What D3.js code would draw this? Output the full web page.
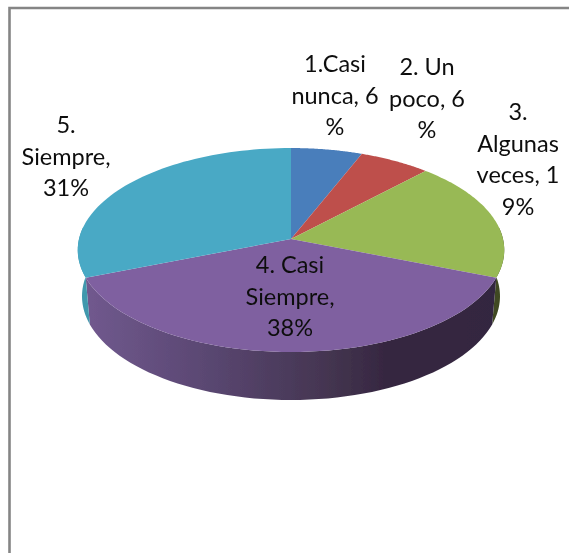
<!DOCTYPE html>
<html><head><meta charset="utf-8">
<script src="https://cdn.jsdelivr.net/npm/d3@7"></script>
<style>html,body{margin:0;padding:0;background:#fff}svg{display:block}text{font-family:Lato,"Open Sans",sans-serif;fill:#111}</style>
</head><body><svg id="c" width="569" height="553"></svg>
<script>
const categories = ["1.Casi nunca","2. Un poco","3. Algunas veces","4. Casi Siempre","5. Siempre"];
const values = [6,6,19,38,31];
const colors = ["#4a7ebb","#be4f4c","#98b954","#7f60a0","#48a9c5"];
const wallColors = ["#2f4f78","#7a3230","#3f4a20","#4f3f66","#3f98ad"];
const labelLines = [["1.Casi","nunca, 6","%"],["2. Un","poco, 6","%"],["3.","Algunas","veces, 1","9%"],["4. Casi","Siempre,","38%"],["5.","Siempre,","31%"]];
const labelPos = [[335,72],[427,75],[518,120],[290,273],[66,133]];

const svg = d3.select("#c");
const defs = svg.append("defs");
const grad = defs.append("linearGradient").attr("id","wall").attr("gradientUnits","userSpaceOnUse")
  .attr("x1",78).attr("x2",504).attr("y1",0).attr("y2",0);
[[0,"#725a90"],[.3,"#5a4772"],[.6,"#43344f"],[.72,"#362741"],[1,"#33253f"]].forEach(s=>grad.append("stop").attr("offset",s[0]).attr("stop-color",s[1]));
defs.append("filter").attr("id","soft").attr("x","-5%").attr("y","-5%").attr("width","110%").attr("height","110%")
  .append("feGaussianBlur").attr("stdDeviation",0.5);

// perspective projection of the unit disc
const cx=291, cy=239, A=212, B=100.8, K=0.108;
const proj=(t,r=1)=>{const u=Math.sin(t)*r,v=-Math.cos(t)*r,w=1-K*v;return [cx+A*u/w,cy+B*v/w,v];};
const depth=v=>46+2*v;
const shrink=0.98;
const arcs=d3.pie().sort(null).value(d=>d)(values);
const samples=(a0,a1)=>d3.range(0,61).map(i=>a0+(a1-a0)*i/60);

// frame
svg.append("path").attr("d","M9.5 553V8H569").attr("fill","none").attr("stroke","#858585").attr("stroke-width",2.6);

const chart=svg.append("g").attr("filter","url(#soft)");
// walls: only the near half of the rim shows
const line=d3.line();
arcs.forEach((d,i)=>{
  const a0=Math.max(d.startAngle,Math.PI/2-0.12),a1=Math.min(d.endAngle,Math.PI*1.5+0.12);
  if(a1<=a0) return;
  const top=samples(a0,a1).map(t=>proj(t));
  const bot=top.slice().reverse().map(p=>[cx+(p[0]-cx)*shrink,p[1]+depth(p[2])]);
  chart.append("path").attr("d",line(top.map(p=>[p[0],p[1]]).concat(bot))+"Z")
    .attr("fill",i===3?"url(#wall)":wallColors[i]);
});
// top face
arcs.forEach((d,i)=>{
  const pts=[[cx,cy]].concat(samples(d.startAngle,d.endAngle).map(t=>proj(t).slice(0,2)));
  chart.append("path").attr("d",line(pts)+"Z").attr("fill",colors[i]);
});
// labels
const labels=svg.append("g").attr("filter","url(#soft)");
labelLines.forEach((ls,i)=>{
  const t=labels.append("text").attr("text-anchor","middle").attr("font-size",23.5);
  ls.forEach((s,j)=>t.append("tspan").attr("x",labelPos[i][0]).attr("y",labelPos[i][1]+j*31.5).text(s));
});
</script></body></html>
